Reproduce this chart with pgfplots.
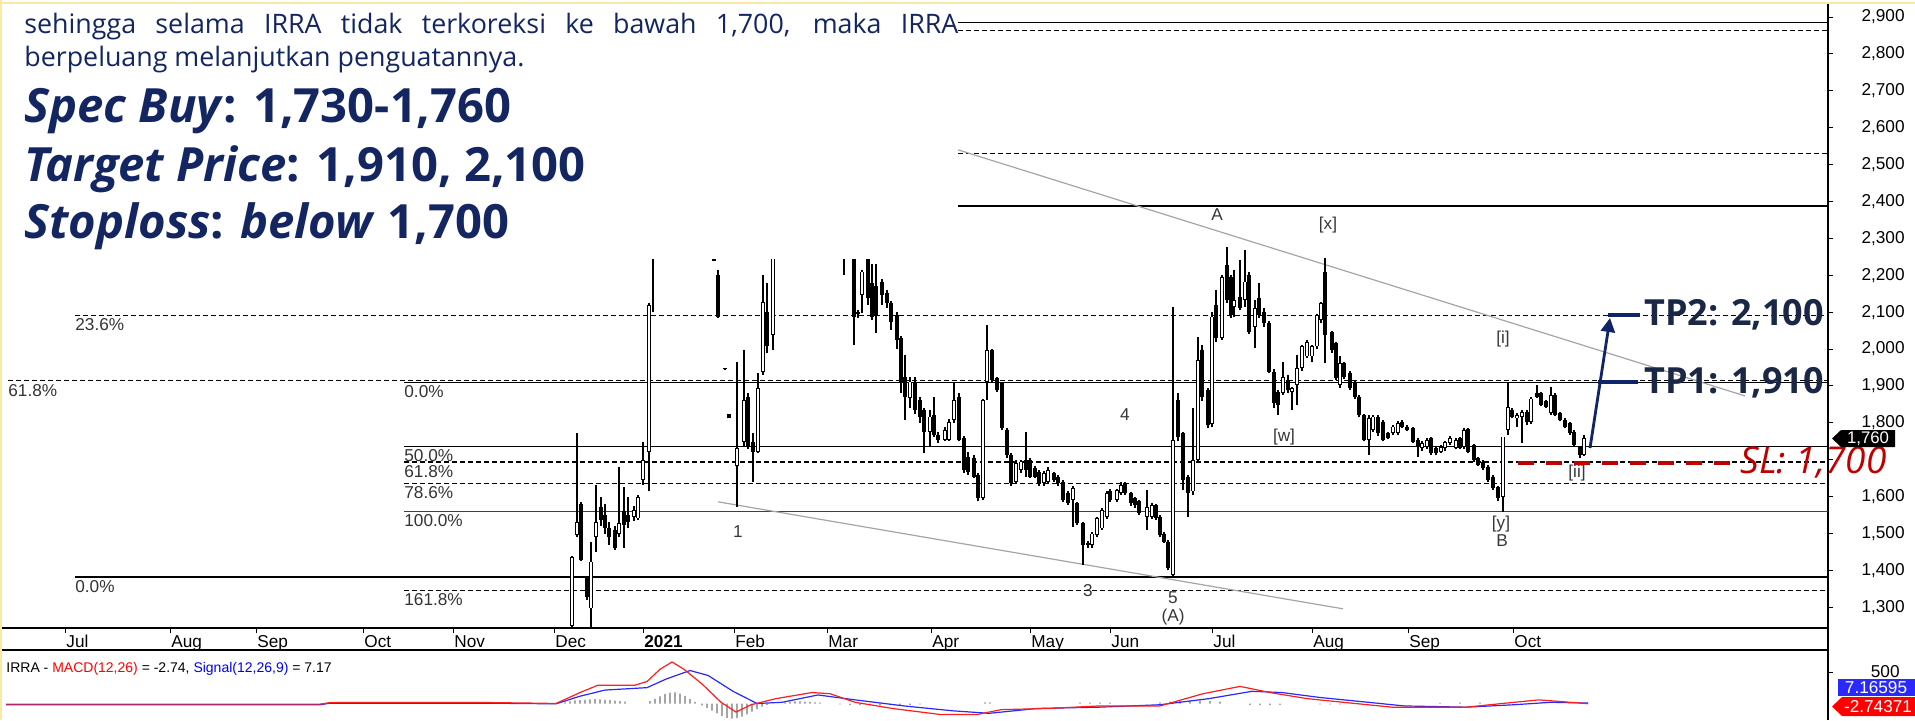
\documentclass[border=0pt]{standalone}
\usepackage{fontspec}
\setmainfont{Liberation Sans}
\IfFontExistsTF{Noto Sans Bold}
 {\IfFontExistsTF{Noto Sans Bold Italic}
   {\newfontfamily\noto{Noto Sans}[BoldFont={Noto Sans Bold},BoldItalicFont={Noto Sans Bold Italic}]}
   {\newfontfamily\noto{Noto Sans}[BoldFont={Noto Sans Bold}]}}
 {\IfFontExistsTF{Open Sans Bold}
   {\newfontfamily\noto{Open Sans}}
   {\newfontfamily\noto{Noto Sans}[AutoFakeBold=2.2]}}
\usepackage{pgfplots}
\usepackage{pgfplotstable}
\pgfplotsset{compat=1.18}
\usetikzlibrary{arrows.meta}
\definecolor{navy}{RGB}{20,38,98}
\definecolor{tpnavy}{RGB}{26,40,70}
\definecolor{arrownavy}{RGB}{16,36,104}
\definecolor{slred}{RGB}{192,0,0}
\definecolor{trendgray}{RGB}{165,165,165}
\definecolor{macdred}{RGB}{255,30,30}
\definecolor{macdblue}{RGB}{40,40,255}
\definecolor{bordery}{RGB}{252,232,165}
\definecolor{wavecol}{RGB}{55,55,55}

\pgfplotstableread{
x o h l c
572 1250 1440 1245 1437
577 1496 1772 1490 1532
581 1580 1585 1425 1428
587 1379 1385 1320 1329
591 1297 1478 1245 1424
596 1490 1632 1451 1532
601 1573 1600 1520 1537
605 1550 1580 1500 1515
609 1514 1530 1469 1492
615 1510 1520 1455 1460
619 1500 1681 1490 1528
624 1560 1627 1460 1523
628 1550 1600 1515 1532
634 1546 1575 1535 1564
638 1541 1605 1538 1600
643 1645 1747 1632 1699
649 1722 2125 1614 2120
653 2300 2500 2101 2450
658 2450 2700 2400 2650
662 2650 2900 2600 2850
667 2850 2900 2700 2750
671 2750 2800 2550 2600
676 2600 2650 2400 2450
680 2450 2600 2400 2550
685 2550 2600 2380 2400
689 2400 2450 2300 2320
694 2320 2400 2280 2380
698 2380 2420 2300 2310
703 2310 2350 2270 2290
708 2290 2300 2260 2280
714 2243 2245 2238 2240
718 2201 2215 2085 2088
725 1947 1948 1944 1945
729 1823 1824 1812 1812
737 1683 1966 1573 1732
744 1749 1997 1735 1862
748 1871 1880 1730 1736
753 1749 1772 1641 1722
758 1722 1934 1717 1894
763 1939 2200 1930 2128
767 2101 2180 1990 2007
773 2038 2450 1997 2350
777 2350 2600 2300 2550
782 2550 2700 2500 2650
787 2650 2800 2600 2700
791 2700 2750 2550 2600
796 2600 2650 2450 2500
800 2500 2600 2450 2580
805 2580 2700 2550 2650
810 2650 2680 2500 2520
814 2520 2550 2400 2420
819 2420 2500 2380 2480
823 2480 2520 2350 2380
828 2380 2450 2330 2420
833 2420 2460 2300 2320
838 2320 2380 2280 2350
844 2400 2500 2200 2300
849 2300 2350 2270 2280
854 2350 2400 2011 2088
858 2100 2105 2085 2095
862 2147 2214 2098 2210
868 2260 2300 2120 2138
872 2178 2230 2080 2088
876 2170 2230 2043 2090
882 2183 2190 2120 2147
887 2151 2160 2110 2124
891 2124 2130 2052 2074
897 2092 2100 2000 2025
901 2029 2035 1880 1907
905 1925 1984 1808 1871
910 1867 1925 1840 1912
915 1912 1925 1825 1835
920 1862 1870 1800 1817
924 1835 1840 1717 1776
930 1776 1835 1735 1817
934 1821 1871 1762 1767
938 1767 1775 1745 1754
945 1754 1790 1750 1781
949 1754 1810 1750 1803
954 1808 1912 1800 1862
959 1871 1880 1750 1754
964 1758 1765 1665 1672
968 1708 1720 1660 1668
974 1704 1712 1650 1654
978 1659 1665 1587 1596
983 1596 1865 1590 1862
987 1912 2065 1862 1997
992 1997 2000 1910 1916
997 1921 1925 1885 1889
1002 1907 1912 1780 1785
1007 1781 1785 1705 1713
1011 1713 1718 1630 1636
1016 1641 1700 1636 1690
1021 1672 1700 1665 1695
1026 1699 1776 1654 1672
1030 1699 1705 1650 1654
1035 1677 1682 1650 1654
1039 1668 1672 1630 1636
1044 1636 1670 1630 1663
1048 1641 1680 1636 1672
1054 1663 1668 1640 1645
1058 1654 1660 1630 1636
1063 1641 1645 1585 1591
1068 1609 1615 1578 1582
1073 1591 1630 1519 1623
1077 1582 1586 1522 1528
1083 1528 1532 1415 1469
1088 1474 1480 1460 1470
1092 1469 1505 1460 1500
1097 1496 1545 1490 1541
1102 1514 1570 1510 1564
1107 1546 1615 1540 1609
1110 1614 1620 1585 1591
1117 1591 1622 1585 1618
1121 1609 1640 1605 1632
1125 1636 1640 1605 1609
1131 1609 1612 1575 1582
1135 1596 1600 1570 1577
1139 1587 1590 1550 1555
1147 1546 1618 1510 1573
1152 1546 1582 1540 1577
1156 1577 1580 1536 1541
1160 1546 1550 1490 1496
1164 1500 1505 1474 1478
1168 1478 1482 1400 1406
1173 1388 2115 1385 1754
1178 1862 1880 1750 1762
1183 1772 1776 1618 1645
1188 1654 1660 1546 1609
1193 1614 1840 1605 1699
1198 1699 2034 1695 1970
1202 1997 2010 1860 1871
1208 1889 1895 1785 1794
1212 1798 2100 1790 2088
1216 2120 2160 2020 2029
1222 2029 2200 2025 2196
1227 2228 2277 2125 2133
1231 2196 2200 2085 2092
1234 2115 2214 2088 2133
1240 2142 2241 2105 2111
1245 2133 2269 2115 2183
1249 2201 2210 2040 2047
1255 2061 2133 2002 2111
1259 2138 2179 2085 2092
1264 2101 2110 2060 2070
1269 2070 2075 1935 1939
1274 1939 1945 1840 1853
1278 1885 1890 1821 1849
1283 1880 1966 1875 1925
1288 1916 1930 1880 1889
1292 1885 1898 1835 1894
1297 1903 1984 1849 1948
1302 1948 2012 1940 2007
1307 1980 2025 1975 2020
1312 1980 2010 1965 2007
1317 2007 2095 2000 2092
1321 2079 2128 2070 2124
1325 2210 2246 1961 2038
1332 2047 2050 1990 1997
1336 2016 2020 1915 1921
1340 1903 1980 1895 1961
1344 1961 1965 1920 1925
1350 1934 1940 1890 1894
1355 1912 1915 1865 1871
1359 1871 1875 1815 1821
1364 1821 1825 1750 1754
1369 1754 1820 1713 1812
1373 1781 1822 1775 1817
1378 1817 1822 1765 1772
1383 1803 1808 1750 1754
1388 1772 1775 1755 1758
1393 1772 1795 1768 1790
1398 1772 1805 1768 1799
1402 1803 1808 1785 1790
1407 1790 1795 1778 1781
1413 1785 1790 1745 1749
1418 1754 1758 1708 1735
1422 1731 1750 1725 1745
1427 1735 1760 1730 1754
1431 1758 1762 1712 1717
1436 1731 1735 1712 1717
1441 1722 1740 1718 1735
1445 1731 1752 1725 1749
1450 1745 1765 1740 1758
1456 1731 1760 1728 1754
1460 1758 1762 1728 1731
1464 1735 1785 1730 1781
1468 1783 1786 1718 1722
1474 1740 1744 1695 1699
1478 1704 1708 1682 1686
1483 1695 1699 1672 1677
1488 1681 1685 1641 1645
1493 1654 1658 1619 1623
1498 1627 1630 1587 1596
1503 1600 1763 1559 1763
1508 1781 1907 1767 1844
1512 1835 1840 1812 1817
1517 1812 1826 1790 1821
1522 1817 1835 1745 1830
1527 1830 1835 1795 1803
1531 1803 1870 1798 1866
1537 1880 1903 1868 1871
1541 1880 1885 1845 1849
1546 1858 1862 1840 1844
1551 1826 1898 1822 1876
1555 1876 1880 1818 1821
1560 1826 1830 1805 1808
1565 1808 1812 1786 1790
1570 1799 1803 1768 1772
1574 1776 1780 1736 1740
1580 1735 1738 1704 1713
1584 1713 1767 1710 1760
}\candles

\pgfplotstableread{
x v
6 -10
160 -10
320 -10
330 15
490 15
540 5
556 0
580 177
598 296
635 296
647 355
660 552
672 670
684 552
702 315
721 20
736 -138
751 -20
776 79
812 177
830 158
855 20
892 -79
940 -177
977 -177
1001 -99
1050 -79
1099 -39
1160 -39
1203 158
1240 276
1270 177
1307 79
1343 20
1392 -59
1466 -59
1502 0
1539 59
1588 -3
}\macdline

\pgfplotstableread{
x v
6 -20
320 -20
330 5
490 5
556 -5
580 118
605 217
647 256
666 394
690 532
708 453
733 197
757 0
782 20
818 138
855 59
904 -39
953 -118
989 -158
1038 -79
1099 -59
1160 -20
1209 79
1252 197
1282 177
1319 99
1368 20
1404 -39
1466 -59
1514 -20
1551 20
1588 7
}\signalline

\pgfplotstableread{
x v
565 20
570 35
575 50
580 55
585 60
590 65
595 70
600 65
605 60
610 55
615 45
620 40
625 30
650 40
655 75
660 115
665 150
670 175
675 180
680 160
685 120
690 70
695 25
702 -30
707 -70
712 -115
717 -160
722 -200
727 -230
732 -245
737 -235
742 -210
747 -175
752 -130
757 -90
762 -50
767 -20
785 20
790 30
795 35
800 35
805 30
810 25
815 20
820 15
840 -15
850 -20
860 -25
870 -30
880 -30
890 -25
900 -20
910 -20
920 -15
985 20
990 20
1080 15
1090 15
1100 15
1110 15
1160 20
1170 30
1180 40
1190 45
1200 45
1210 40
1220 30
1250 -20
1260 -25
1270 -25
1280 -20
1320 -15
1330 -15
1340 -15
1440 10
1460 15
1480 15
1500 10
}\histo

\begin{document}
\begin{tikzpicture}
\path[use as bounding box] (0pt,0pt) rectangle (957.5pt,360pt);

% ---------- price panel ----------
\begin{axis}[at={(0pt,46pt)}, anchor=south west, scale only axis,
  width=914pt, height=312.5pt,
  xmin=0, xmax=1828, ymin=1244, ymax=2938, clip=false,
  axis x line*=bottom, axis y line*=right,
  axis line style={black, line width=0.6pt},
  tick align=outside, major tick length=2.5pt,
  tick style={black, line width=0.5pt},
  xtick={65,170,256,363,453,554,643,734,827,931,1030,1110,1212,1312,1408,1513},
  xticklabels={Jul,Aug,Sep,Oct,Nov,Dec,\textbf{2021},Feb,Mar,Apr,May,Jun,Jul,Aug,Sep,Oct},
  xticklabel style={anchor=north west, inner sep=0pt, xshift=0.5pt, yshift=-1pt, font=\fontsize{8.6}{10}\selectfont},
  ytick={1300,1400,1500,1600,1800,1900,2000,2100,2200,2300,2400,2500,2600,2700,2800,2900},
  extra y ticks={1700}, extra y tick labels={},
  /pgf/number format/.cd, 1000 sep={,}, assume math mode=true, /pgfplots/.cd,
  yticklabel style={anchor=east, inner sep=0pt, xshift=36pt, font=\fontsize{8.6}{10}\selectfont},
]
% horizontal levels
\addplot[black, line width=0.6pt] coordinates {(958,2886) (1828,2886)};
\addplot[black, line width=0.6pt, dash pattern=on 2.5pt off 1.5pt] coordinates {(958,2863) (1828,2863)};
\addplot[black, line width=0.6pt, dash pattern=on 2.5pt off 1.5pt] coordinates {(958,2530) (1828,2530)};
\addplot[black, line width=0.6pt] coordinates {(958,2388) (1828,2388)};
\addplot[black, line width=0.6pt, dash pattern=on 2.5pt off 1.5pt] coordinates {(75,2092) (1828,2092)};
\addplot[black, line width=0.6pt, dash pattern=on 2.5pt off 1.5pt] coordinates {(8,1914) (1828,1914)};
\addplot[black, line width=0.6pt] coordinates {(404,1909) (1828,1909)};
\addplot[black, line width=0.6pt] coordinates {(404,1735) (1828,1735)};
\addplot[black, line width=0.6pt, dash pattern=on 2.5pt off 1.5pt] coordinates {(404,1694) (1828,1694)};
\addplot[black, line width=0.6pt, dash pattern=on 2.5pt off 1.5pt] coordinates {(404,1636) (1828,1636)};
\addplot[black!75, line width=0.6pt] coordinates {(404,1559) (1828,1559)};
\addplot[black, line width=0.6pt] coordinates {(75,1382) (1828,1382)};
\addplot[black, line width=0.6pt, dash pattern=on 2.5pt off 1.5pt] coordinates {(404,1345) (1828,1345)};
% trend lines
\addplot[trendgray, line width=0.6pt] coordinates {(958,2540) (1745,1873)};
\addplot[trendgray, line width=0.6pt] coordinates {(718,1586) (1343,1296)};
% candles: wicks
\addplot[black, line width=0.55pt, mark=none, line cap=butt,
  quiver={u={0}, v={\thisrow{h}-\thisrow{l}}}]
  table[x=x, y=l] {\candles};
% candles: bodies
\addplot[black, line width=1.8pt, mark=none, line cap=butt,
  quiver={u={0}, v={max(abs(\thisrow{c}-\thisrow{o}),2.5)}}]
  table[x=x, y expr={min(\thisrow{o},\thisrow{c})}] {\candles};
% candles: hollow (rising) interiors
\addplot[white, line width=0.8pt, mark=none, line cap=butt,
  quiver={u={0}, v={max(\thisrow{c}-\thisrow{o}-4.8,0)}}]
  table[x=x, y expr={\thisrow{o}+2.4}] {\candles};
\end{axis}

% ---------- MACD panel ----------
\begin{axis}[at={(0pt,0pt)}, anchor=south west, scale only axis,
  width=914pt, height=35pt,
  xmin=0, xmax=1828, ymin=-266, ymax=863,
  axis x line*=top, axis y line*=right,
  axis line style={black, line width=0.6pt},
  xtick=\empty, ytick={500}, yticklabels={},
  tick align=outside, major tick length=2.5pt,
  tick style={black, line width=0.5pt},
]
\addplot[ybar, bar width=0.45pt, fill=black, draw=none] table[x=x, y=v] {\histo};
\addplot[macdblue, line width=0.6pt] table[x=x, y=v] {\signalline};
\addplot[macdred, line width=0.6pt] table[x=x, y=v] {\macdline};
\end{axis}

\begin{scope}[yshift=360pt, x=0.5pt, y=-0.5pt]
\draw[black, line width=0.6pt] (1828,628) -- (1828,650);
\node[anchor=east, inner sep=0pt, font=\fontsize{8.6}{10}\selectfont] at (1900,672) {500};

% ---------- white text box overlay ----------
\fill[white] (0,0) rectangle (958,259);
\draw[bordery, line width=1pt] (1,0) -- (1,720);
\draw[bordery, line width=1pt] (0,2.5) -- (1915,2.5);

\node[anchor=base west, inner sep=0pt, text=navy, font=\noto\fontsize{13.4}{15}\selectfont] at (24,33)
  {\makebox[467pt][s]{sehingga selama IRRA tidak terkoreksi ke bawah 1,700, maka IRRA}};
\node[anchor=base west, inner sep=0pt, text=navy, font=\noto\fontsize{13.4}{15}\selectfont] at (24,66)
  {berpeluang melanjutkan penguatannya.};
\node[anchor=base west, inner sep=0pt, text=navy, font=\noto\bfseries\fontsize{23.6}{26}\selectfont] at (24,122)
  {\textit{Spec Buy}: 1,730-1,760};
\node[anchor=base west, inner sep=0pt, text=navy, font=\noto\bfseries\fontsize{23.6}{26}\selectfont] at (24,181)
  {\textit{Target Price}: 1,910, 2,100};
\node[anchor=base west, inner sep=0pt, text=navy, font=\noto\bfseries\fontsize{23.6}{26}\selectfont] at (24,238)
  {\textit{Stoploss}: \textit{below} 1,700};

% ---------- fib labels ----------
\begin{scope}[every node/.style={anchor=west, inner sep=0pt, text=black!80, font=\fontsize{8.6}{10}\selectfont}]
\node at (75,325) {23.6\%};
\node at (8,391) {61.8\%};
\node at (404,392) {0.0\%};
\node at (404,456) {50.0\%};
\node at (404,472) {61.8\%};
\node at (404,493) {78.6\%};
\node at (404,521) {100.0\%};
\node at (75,587) {0.0\%};
\node at (404,600) {161.8\%};
\end{scope}

% ---------- wave labels ----------
\begin{scope}[every node/.style={inner sep=0pt, text=wavecol, font=\fontsize{8.6}{10}\selectfont}]
\node at (1217,215) {A};
\node at (1328,225) {[x]};
\node at (1503,339) {[i]};
\node at (1125,415) {4};
\node at (1284,437) {[w]};
\node at (738,532) {1};
\node at (1088,591) {3};
\node at (1173,598) {5};
\node at (1173,617) {(A)};
\node at (1501,524) {[y]};
\node at (1502,541) {B};
\node at (1577,473) {[ii]};
\end{scope}

% ---------- targets ----------
\draw[arrownavy, line width=1.4pt, -{Triangle[length=7pt,width=7pt]}] (1590,448) -- (1610,318);
\draw[arrownavy, line width=1.6pt] (1608,315) -- (1640,315);
\draw[arrownavy, line width=1.6pt] (1598,382) -- (1638,382);
\node[anchor=west, inner sep=0pt, text=tpnavy, font=\noto\bfseries\fontsize{18}{20}\selectfont] at (1644,315) {TP2: 2,100};
\node[anchor=west, inner sep=0pt, text=tpnavy, font=\noto\bfseries\fontsize{18}{20}\selectfont] at (1644,383) {TP1: 1,910};
\draw[slred, line width=1.6pt, dash pattern=on 8pt off 6pt] (1518,463) -- (1732,463);
\node[anchor=west, inner sep=0pt, text=slred, font=\noto\itshape\fontsize{18.5}{20}\selectfont] at (1740,462) {SL: 1,700};

% ---------- price tags ----------
\fill[black] (1832,438.5) -- (1841,430) -- (1895,430) -- (1895,447) -- (1841,447) -- cycle;
\node[text=white, inner sep=0pt, font=\fontsize{8.4}{10}\selectfont] at (1868,438.5) {1,760};
\fill[macdblue] (1838,679) rectangle (1915,696);
\node[text=white, inner sep=0pt, font=\fontsize{8.6}{10}\selectfont] at (1876,687.5) {7.16595};
\fill[red] (1832,706.5) -- (1842,697) -- (1915,697) -- (1915,716) -- (1842,716) -- cycle;
\node[text=white, inner sep=0pt, font=\fontsize{8.6}{10}\selectfont] at (1878,706.5) {-2.74371};

% ---------- MACD title ----------
\node[anchor=west, inner sep=0pt, font=\fontsize{7}{8}\selectfont] at (6,669)
  {IRRA - \textcolor{red}{MACD(12,26)} = -2.74, \textcolor{blue}{Signal(12,26,9)} = 7.17};
\end{scope}
\end{tikzpicture}
\end{document}
